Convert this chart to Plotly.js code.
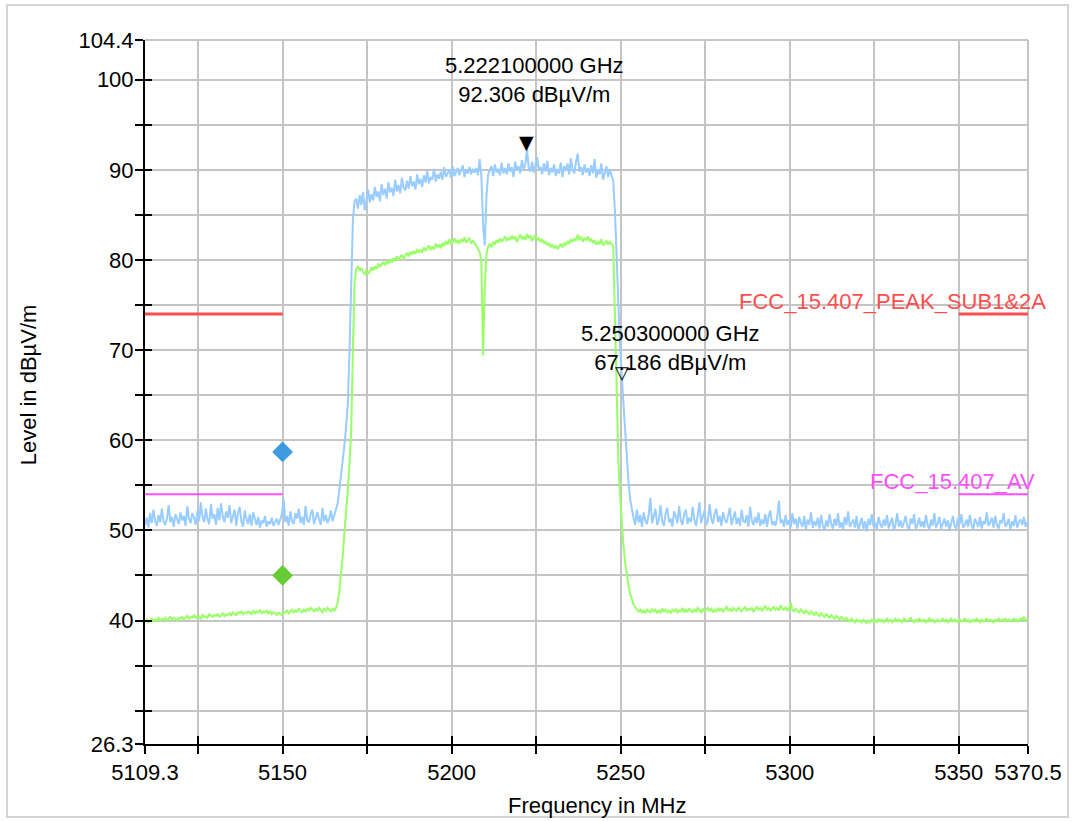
<!DOCTYPE html>
<html>
<head>
<meta charset="utf-8">
<script src="https://cdn.plot.ly/plotly-3.0.1.min.js"></script>
<style>html,body{margin:0;padding:0;background:#fff;}#chart{width:1075px;height:821px;}</style>
</head>
<body>
<div id="chart"></div>
<script>
// Sweep grid (MHz)
const sweepStart = 5109.3;
const sweepStep = 0.5;

// Peak detector trace (dBµV/m)
const peakLevels = [
50.6,51.4,50.3,51.9,50.8,52.3,51.1,50.5,51.7,50.9,
52.4,51.0,50.6,51.3,52.8,50.9,51.5,50.4,51.8,51.2,
50.7,52.0,51.1,51.6,50.5,52.7,51.3,50.8,51.9,51.4,
50.6,52.2,51.0,53.1,51.5,50.9,52.4,51.2,50.7,52.9,
51.3,51.8,50.6,52.5,51.1,53.0,51.6,50.9,52.1,51.4,
52.8,50.8,51.7,52.3,50.5,51.9,52.6,51.0,50.4,52.2,
51.3,50.7,51.8,50.5,52.0,51.2,50.6,51.5,50.3,51.1,
50.8,51.6,50.4,51.0,50.7,51.4,50.5,50.9,51.3,50.6,
51.2,51.8,53.5,50.9,51.6,50.5,52.1,51.0,50.7,51.9,
51.3,52.4,50.8,51.5,50.6,52.7,51.1,50.9,51.8,52.3,
50.7,51.4,52.0,51.2,50.6,52.5,51.0,51.7,50.8,51.3,
52.2,51.0,51.6,52.4,
53.0,54.5,56.0,58.0,59.5,61.5,64.0,70.0,78.0,84.5,86.5,
86.8,85.7,87.2,86.1,87.5,85.5,86.9,87.8,86.4,87.3,
86.6,88.1,87.0,87.6,86.5,88.4,87.2,87.9,86.8,88.6,
87.5,88.0,87.1,88.9,87.6,88.3,87.4,89.1,88.0,87.7,
88.8,87.9,89.3,88.2,88.7,87.8,89.5,88.4,89.0,88.1,
89.4,88.6,89.9,88.5,89.2,88.9,90.1,88.7,89.5,89.0,
89.8,88.9,90.3,89.2,89.6,90.0,89.1,90.4,89.3,89.8,
90.2,89.4,89.9,90.5,89.2,90.0,89.6,90.3,89.5,90.1,
89.7,90.2,89.4,91.2,89.3,
84.0,81.6,87.0,89.5,
89.9,90.4,89.3,90.6,89.7,90.1,89.4,90.8,89.6,90.2,
89.5,90.7,89.8,90.3,89.2,90.9,89.9,90.4,89.6,91.1,
90.0,90.6,92.3,90.2,89.8,90.9,89.7,90.5,91.4,89.9,
90.3,89.5,90.7,89.8,91.0,89.4,90.2,89.7,90.6,89.3,
90.1,89.6,90.8,89.2,90.4,89.9,90.7,89.5,91.3,90.0,
89.6,90.9,91.8,89.8,90.3,89.4,90.6,89.7,90.2,89.3,
90.5,89.6,91.2,89.1,90.0,89.5,90.7,88.9,89.8,90.4,
89.2,90.1,89.4,88.8,
85.5,80.0,75.0,70.5,67.2,64.0,61.0,58.0,55.5,53.5,52.2,
51.4,50.6,52.3,50.9,51.7,50.4,52.0,51.1,50.7,51.8,
53.6,50.8,51.5,52.4,50.6,51.2,52.8,51.0,50.5,51.9,
52.5,50.9,51.3,50.4,52.1,51.6,50.8,52.7,51.1,50.6,
51.8,52.3,50.7,51.4,50.9,52.6,51.2,50.5,51.7,53.1,
50.8,51.5,52.2,50.6,51.0,52.9,51.3,50.7,51.9,52.4,
50.9,51.6,50.5,52.0,51.2,50.8,51.8,52.5,50.6,51.3,
52.1,50.7,51.4,50.5,52.3,51.0,50.9,51.7,50.4,52.6,
51.1,50.6,51.5,50.8,52.0,50.5,51.2,50.7,51.8,50.4,
51.6,52.2,50.6,51.0,50.5,51.4,53.3,50.8,51.2,50.4,
51.7,50.6,51.1,50.3,51.9,50.7,51.3,50.2,51.5,50.8,
50.4,51.6,50.1,51.2,50.6,52.0,50.3,51.0,50.5,51.4,
50.2,51.7,50.6,50.0,51.1,50.4,51.8,50.7,50.2,51.3,
50.5,51.9,50.3,50.9,50.1,51.5,50.6,52.1,50.4,50.8,
51.2,50.3,51.6,50.0,50.7,51.4,50.2,51.0,49.9,51.3,
50.6,51.8,50.4,50.9,50.1,51.5,50.7,50.3,51.2,50.5,
51.7,50.2,50.8,51.4,50.0,50.6,51.9,50.4,51.1,50.3,
50.9,51.6,50.5,50.1,51.3,50.7,51.8,50.2,50.6,51.4,
50.4,51.0,50.3,51.7,50.6,50.1,51.2,50.5,51.9,50.3,
50.8,51.5,50.2,50.7,51.3,50.4,51.1,50.0,50.9,51.6,
50.5,50.2,51.4,50.7,51.8,50.3,50.6,51.2,50.4,51.7,
50.6,50.1,51.3,50.8,50.4,51.5,50.2,51.0,50.7,52.0,
50.5,50.9,51.4,50.3,51.6,50.6,50.2,51.1,50.8,51.9,
50.4,50.7,51.3,50.1,51.0,50.5,51.7,50.3,50.9,51.2,
50.6,51.5,50.4,50.9
];

// Average detector trace (dBµV/m)
const avgLevels = [
39.9,40.1,39.8,40.0,40.2,39.9,40.1,40.0,40.3,40.0,
40.2,40.1,40.3,40.0,40.2,40.4,40.1,40.3,40.2,40.0,
40.3,40.2,40.4,40.1,40.3,40.5,40.2,40.4,40.3,40.6,
40.3,40.5,40.4,40.2,40.6,40.4,40.5,40.3,40.7,40.5,
40.4,40.6,40.5,40.7,40.4,40.6,40.8,40.5,40.7,40.6,
40.8,40.6,40.9,40.7,40.6,40.9,40.8,41.0,40.7,40.9,
40.8,41.0,40.9,40.7,41.1,40.8,41.0,40.9,41.2,40.8,
41.0,40.9,41.1,40.8,41.0,40.7,40.9,40.8,40.6,40.9,
40.7,40.6,40.8,40.9,41.1,40.8,41.0,41.2,40.9,41.1,
41.0,41.3,41.1,40.9,41.2,41.0,41.3,41.1,41.4,41.2,
41.0,41.3,41.1,41.4,41.2,40.9,41.3,41.1,41.4,41.2,
41.0,41.3,41.1,41.4,
42.0,43.3,45.0,47.2,49.8,52.0,54.5,57.5,61.0,70.0,77.5,79.0,
79.3,78.8,79.1,78.6,78.4,78.9,78.5,78.7,79.2,78.8,
79.3,79.0,79.6,79.2,79.5,79.8,79.4,79.9,79.6,80.1,
79.7,80.2,79.9,80.4,80.0,80.3,80.6,80.1,80.5,80.8,
80.4,80.9,80.6,81.0,80.7,81.2,80.8,81.1,80.9,81.4,
81.0,81.3,81.6,81.1,81.5,81.2,81.8,81.4,81.7,81.3,
81.9,81.5,82.1,81.7,82.3,81.8,82.0,82.4,81.9,82.2,
81.8,82.3,82.0,82.5,81.9,82.2,82.4,81.8,82.1,81.9,
81.6,81.3,80.9,79.8,69.4,77.0,80.6,81.5,
81.8,81.4,82.0,81.7,82.2,81.9,82.4,82.0,82.3,82.6,
82.1,82.5,82.2,82.7,82.3,82.6,82.0,82.4,82.8,82.3,
82.6,82.2,82.9,82.4,82.7,82.1,82.5,82.8,82.2,82.4,
82.0,82.3,81.8,82.1,81.6,81.9,81.4,81.7,81.3,81.6,
81.2,81.5,81.8,81.4,81.9,81.6,82.1,81.8,82.3,82.0,
82.4,82.1,82.8,82.3,82.5,82.0,82.4,82.2,82.6,82.1,
82.3,81.9,82.2,81.7,82.0,81.8,82.3,81.6,81.9,82.1,
81.7,82.0,81.8,81.5,
74.0,65.0,58.0,54.0,51.0,48.5,46.5,45.0,44.0,43.0,42.3,41.8,41.5,
41.3,41.0,41.2,40.9,41.1,40.8,41.2,41.0,40.9,41.3,
41.0,41.2,40.8,41.1,40.9,41.3,41.0,41.2,40.9,41.1,
40.8,41.2,41.0,41.3,40.9,41.1,41.0,41.4,40.9,41.2,
41.0,41.3,41.1,40.9,41.2,41.0,41.4,41.1,40.9,41.3,
41.0,41.2,41.4,41.1,41.3,40.9,41.2,41.0,41.4,41.1,
41.3,41.0,41.2,41.5,41.1,41.3,41.0,41.4,41.2,41.1,
41.4,41.2,41.0,41.3,41.5,41.1,41.3,41.2,41.4,41.0,
41.3,41.5,41.2,41.4,41.1,41.3,41.6,41.2,41.4,41.1,
41.3,41.5,41.2,41.4,41.1,41.7,41.3,41.2,41.5,41.1,
41.3,42.0,41.2,41.0,41.3,41.1,40.9,41.2,41.0,40.8,
41.1,40.9,40.7,41.0,40.8,40.6,40.9,40.7,40.5,40.8,
40.6,40.4,40.7,40.5,40.3,40.6,40.4,40.2,40.5,40.3,
40.1,40.4,40.2,40.0,40.3,40.1,39.9,40.2,40.0,39.8,
40.1,39.9,40.0,39.8,40.1,39.9,39.7,40.0,39.8,40.1,
39.9,40.0,39.8,40.2,39.9,40.1,39.8,40.0,40.2,39.9,
40.1,39.8,40.0,40.2,39.9,40.1,40.0,39.8,40.2,40.0,
39.9,40.1,40.3,40.0,39.8,40.1,39.9,40.2,40.0,39.9,
40.1,39.8,40.0,40.2,39.9,40.1,39.8,40.0,40.1,39.9,
40.0,40.2,39.9,40.1,39.8,40.0,40.2,39.9,40.1,40.0,
39.8,40.1,39.9,40.0,40.2,39.9,40.1,39.8,40.0,40.1,
39.9,40.2,40.0,39.8,40.1,39.9,40.0,40.2,39.9,40.1,
40.0,39.8,40.1,40.0,40.2,39.9,40.1,40.0,40.2,39.9,
40.1,40.0,39.9,40.2,40.0,40.1,39.9,40.2,40.1,40.4,
40.0,40.2
];

// Limit lines
const limitPeakName = 'FCC_15.407_PEAK_SUB1&2A';
const limitPeakFreq = [5109.3, 5150, null, 5350, 5370.5];
const limitPeakLevel = [74, 74, null, 74, 74];
const limitAvName = 'FCC_15.407_AV';
const limitAvFreq = [5109.3, 5150, null, 5350, 5370.5];
const limitAvLevel = [54, 54, null, 54, 54];

// Final measurement points
const finalPeakFreq = [5150];
const finalPeakLevel = [58.7];
const finalAvgFreq = [5150];
const finalAvgLevel = [45.0];

// Markers
const markerFreqMHz = [5222.1, 5250.3];
const markerFreqLabel = ['5.222100000 GHz', '5.250300000 GHz'];
const markerLevel = [92.306, 67.186];
const markerLevelLabel = ['92.306 dBµV/m', '67.186 dBµV/m'];

// Axes
const xRange = [5109.3, 5370.5];
const yRange = [26.3, 104.4];
const xTickVals = [5109.3, 5125, 5150, 5175, 5200, 5225, 5250, 5275, 5300, 5325, 5350, 5370.5];
const xTickText = ['5109.3', '', '5150', '', '5200', '', '5250', '', '5300', '', '5350', '5370.5'];
const yTickVals = [26.3, 30, 35, 40, 45, 50, 55, 60, 65, 70, 75, 80, 85, 90, 95, 100, 104.4];
const yTickText = ['26.3', '', '', '40', '', '50', '', '60', '', '70', '', '80', '', '90', '', '100', '104.4'];
const xTitle = 'Frequency in MHz';
const yTitle = 'Level in dBµV/m';

const freqs = peakLevels.map((_, i) => +(sweepStart + i * sweepStep).toFixed(1));
const freqsAvg = avgLevels.map((_, i) => +(sweepStart + i * sweepStep).toFixed(1));

const FONT = 'Arial, "Liberation Sans", sans-serif';
const FS = 22;

const traces = [
  {x: freqs, y: peakLevels, type: 'scatter', mode: 'lines', line: {color: '#99ccff', width: 2}, hoverinfo: 'skip'},
  {x: freqsAvg, y: avgLevels, type: 'scatter', mode: 'lines', line: {color: '#99ff66', width: 2}, hoverinfo: 'skip'},
  {x: limitPeakFreq, y: limitPeakLevel, type: 'scatter', mode: 'lines', line: {color: '#ff4d4d', width: 3}, connectgaps: false},
  {x: limitAvFreq, y: limitAvLevel, type: 'scatter', mode: 'lines', line: {color: '#ff4dff', width: 2}, connectgaps: false},
  {x: finalPeakFreq, y: finalPeakLevel, type: 'scatter', mode: 'markers', marker: {symbol: 'diamond', size: 16, color: '#3d9be0'}},
  {x: finalAvgFreq, y: finalAvgLevel, type: 'scatter', mode: 'markers', marker: {symbol: 'diamond', size: 16, color: '#66cc33'}},
  {x: [], y: [], xaxis: 'x2', yaxis: 'y2', type: 'scatter', mode: 'lines'}
];

const annotations = [
  {x: markerFreqMHz[0], y: markerLevel[0], xref: 'x', yref: 'y', text: '▼', showarrow: false,
   xanchor: 'center', yanchor: 'bottom', yshift: -6, font: {family: 'DejaVu Sans', size: 19, color: '#000'}},
  {x: markerFreqMHz[1], y: markerLevel[1], xref: 'x', yref: 'y', text: '▽', showarrow: false,
   xanchor: 'center', yanchor: 'middle', yshift: 3, font: {family: 'DejaVu Sans', size: 18, color: '#000'}},
  {x: markerFreqMHz[0], y: markerLevel[0], xref: 'x', yref: 'y',
   text: markerFreqLabel[0] + '<br>' + markerLevelLabel[0], showarrow: false,
   xanchor: 'center', yanchor: 'bottom', xshift: 8, yshift: 40, font: {family: FONT, size: FS, color: '#000'}},
  {x: markerFreqMHz[1], y: markerLevel[1], xref: 'x', yref: 'y',
   text: markerFreqLabel[1] + '<br>' + markerLevelLabel[1], showarrow: false,
   xanchor: 'center', yanchor: 'bottom', xshift: 49, yshift: -2, font: {family: FONT, size: FS, color: '#000'}},
  {x: xRange[1], y: limitPeakLevel[0], xref: 'x', yref: 'y', text: limitPeakName, showarrow: false,
   xanchor: 'right', yanchor: 'bottom', xshift: 20, yshift: -2, font: {family: FONT, size: FS, color: '#ff4d4d'}},
  {x: xRange[1], y: limitAvLevel[0], xref: 'x', yref: 'y', text: limitAvName, showarrow: false,
   xanchor: 'right', yanchor: 'bottom', xshift: 9, yshift: -2, font: {family: FONT, size: FS, color: '#ff4dff'}},
  {x: 0.512, y: -0.088, xref: 'paper', yref: 'paper', text: xTitle, showarrow: false,
   xanchor: 'center', yanchor: 'middle', font: {family: FONT, size: FS, color: '#000'}},
  {x: -0.131, y: 0.51, xref: 'paper', yref: 'paper', text: yTitle, showarrow: false, textangle: -90,
   xanchor: 'center', yanchor: 'middle', font: {family: FONT, size: FS, color: '#000'}}
];

const axisCommon = {
  tickmode: 'array', ticks: 'outside', ticklen: 8, tickwidth: 2, tickcolor: '#000',
  showline: true, linecolor: '#000', linewidth: 2, showgrid: true, gridcolor: '#c4c4c4', gridwidth: 2,
  zeroline: false, tickfont: {family: FONT, size: FS, color: '#000'}, fixedrange: true
};

const layout = {
  width: 1075, height: 821,
  margin: {l: 145, r: 47, t: 40, b: 77},
  paper_bgcolor: '#fff', plot_bgcolor: '#fff',
  showlegend: false,
  xaxis: Object.assign({}, axisCommon, {range: xRange, tickvals: xTickVals, ticktext: xTickText}),
  yaxis: Object.assign({}, axisCommon, {range: yRange, tickvals: yTickVals, ticktext: yTickText, ticklabelstandoff: -3}),
  xaxis2: {overlaying: 'x', anchor: 'y', side: 'bottom', range: xRange, tickmode: 'array', tickvals: xTickVals,
    ticks: 'inside', ticklen: 8, tickwidth: 2, tickcolor: '#000', showticklabels: false, showgrid: false,
    zeroline: false, showline: false},
  yaxis2: {overlaying: 'y', anchor: 'x', side: 'left', range: yRange, tickmode: 'array', tickvals: yTickVals,
    ticks: 'inside', ticklen: 7, tickwidth: 2, tickcolor: '#000', showticklabels: false, showgrid: false,
    zeroline: false, showline: false},
  annotations: annotations,
  shapes: [
    {type: 'line', xref: 'paper', yref: 'paper', x0: 0, x1: 1, y0: 1, y1: 1, line: {color: '#c4c4c4', width: 2}, layer: 'below'},
    {type: 'line', xref: 'paper', yref: 'paper', x0: 1, x1: 1, y0: 0, y1: 1, line: {color: '#c4c4c4', width: 2}, layer: 'below'},
    {type: 'rect', xref: 'paper', yref: 'paper', x0: -0.1563, x1: 1.0453, y0: -0.1037, y1: 1.0497, line: {color: '#d4d4d4', width: 2}}
  ]
};

Plotly.newPlot('chart', traces, layout, {staticPlot: true, displayModeBar: false});
</script>
</body>
</html>
